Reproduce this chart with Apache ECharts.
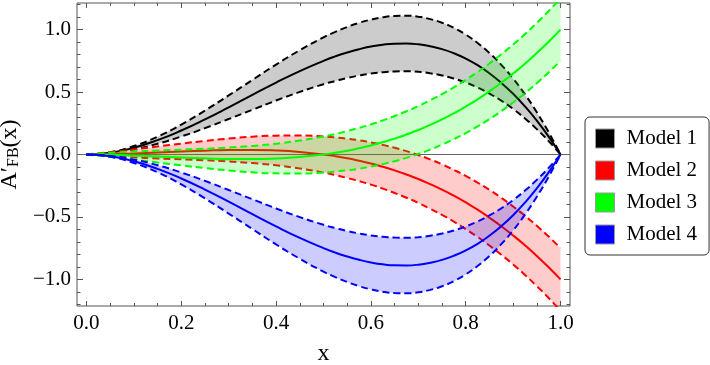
<!DOCTYPE html>
<html><head><meta charset="utf-8">
<script src="https://cdn.jsdelivr.net/npm/echarts@6/dist/echarts.min.js"></script>
<style>html,body{margin:0;padding:0;background:#fff}#c{width:710px;height:365px}</style>
</head><body><div id="c"></div>
<script>
// x sample positions
const xs = [0,0.05,0.1,0.15,0.2,0.25,0.3,0.35,0.4,0.45,0.5,0.525,0.55,0.575,0.6,0.625,0.65,0.675,0.7,0.725,0.75,0.775,0.8,0.825,0.85,0.875,0.9,0.925,0.95,0.975,1];

// Model 1 (black)
const m1Mid = [0,0.014,0.054,0.115,0.192,0.281,0.378,0.478,0.576,0.668,0.750,0.786,0.817,0.843,0.864,0.879,0.887,0.888,0.882,0.867,0.844,0.811,0.768,0.715,0.650,0.574,0.486,0.385,0.271,0.143,0];
const m1Up  = [0,0.018,0.068,0.143,0.240,0.352,0.473,0.597,0.720,0.835,0.938,0.982,1.021,1.054,1.080,1.099,1.109,1.111,1.103,1.084,1.055,1.014,0.960,0.893,0.813,0.718,0.608,0.481,0.338,0.178,0];
const m1Lo  = [0,0.011,0.041,0.086,0.144,0.211,0.284,0.358,0.432,0.501,0.563,0.589,0.613,0.632,0.648,0.659,0.665,0.666,0.662,0.650,0.633,0.608,0.576,0.536,0.488,0.431,0.365,0.289,0.203,0.107,0];

// Model 2 (red)
const m2Mid = [0,0.002,0.008,0.016,0.024,0.031,0.036,0.037,0.032,0.020,0,-0.014,-0.030,-0.050,-0.072,-0.098,-0.127,-0.160,-0.196,-0.237,-0.281,-0.330,-0.384,-0.442,-0.506,-0.574,-0.648,-0.727,-0.812,-0.903,-1.0];
const m2Up  = [0,0.019,0.040,0.064,0.087,0.109,0.128,0.143,0.151,0.153,0.145,0.137,0.127,0.114,0.097,0.077,0.054,0.027,-0.004,-0.039,-0.079,-0.123,-0.171,-0.225,-0.283,-0.347,-0.416,-0.491,-0.571,-0.657,-0.75];
const m2Lo  = [0,-0.014,-0.024,-0.032,-0.039,-0.046,-0.056,-0.069,-0.087,-0.112,-0.145,-0.165,-0.188,-0.213,-0.241,-0.273,-0.308,-0.346,-0.388,-0.434,-0.484,-0.538,-0.597,-0.660,-0.729,-0.802,-0.880,-0.964,-1.054,-1.149,-1.25];

// Model 3 (green)
const m3Mid = [0,-0.002,-0.008,-0.016,-0.024,-0.031,-0.036,-0.037,-0.032,-0.020,0,0.014,0.030,0.050,0.072,0.098,0.127,0.160,0.196,0.237,0.281,0.330,0.384,0.442,0.506,0.574,0.648,0.727,0.812,0.903,1.0];
const m3Up  = [0,0.014,0.024,0.032,0.039,0.046,0.056,0.069,0.087,0.112,0.145,0.165,0.188,0.213,0.241,0.273,0.308,0.346,0.388,0.434,0.484,0.538,0.597,0.660,0.729,0.802,0.880,0.964,1.054,1.149,1.25];
const m3Lo  = [0,-0.019,-0.040,-0.064,-0.087,-0.109,-0.128,-0.143,-0.151,-0.153,-0.145,-0.137,-0.127,-0.114,-0.097,-0.077,-0.054,-0.027,0.004,0.039,0.079,0.123,0.171,0.225,0.283,0.347,0.416,0.491,0.571,0.657,0.75];

// Model 4 (blue)
const m4Mid = [0,-0.014,-0.054,-0.115,-0.192,-0.281,-0.378,-0.478,-0.576,-0.668,-0.750,-0.786,-0.817,-0.843,-0.864,-0.879,-0.887,-0.888,-0.882,-0.867,-0.844,-0.811,-0.768,-0.715,-0.650,-0.574,-0.486,-0.385,-0.271,-0.143,0];
const m4Up  = [0,-0.011,-0.041,-0.086,-0.144,-0.211,-0.284,-0.358,-0.432,-0.501,-0.563,-0.589,-0.613,-0.632,-0.648,-0.659,-0.665,-0.666,-0.662,-0.650,-0.633,-0.608,-0.576,-0.536,-0.488,-0.431,-0.365,-0.289,-0.203,-0.107,0];
const m4Lo  = [0,-0.018,-0.068,-0.143,-0.240,-0.352,-0.473,-0.597,-0.720,-0.835,-0.938,-0.982,-1.021,-1.054,-1.080,-1.099,-1.109,-1.111,-1.103,-1.084,-1.055,-1.014,-0.960,-0.893,-0.813,-0.718,-0.608,-0.481,-0.338,-0.178,0];

const modelNames = ['Model 1','Model 2','Model 3','Model 4'];
const xTicks = [0,0.2,0.4,0.6,0.8,1.0];
const xMinor = [0.05,0.1,0.15,0.25,0.3,0.35,0.45,0.5,0.55,0.65,0.7,0.75,0.85,0.9,0.95];
const yTicks = [-1.0,-0.5,0,0.5,1.0];
const yMinor = [-1.2,-1.1,-0.9,-0.8,-0.7,-0.6,-0.4,-0.3,-0.2,-0.1,0.1,0.2,0.3,0.4,0.6,0.7,0.8,0.9,1.1,1.2];

const FONT = 'Liberation Serif';
const models = [
  {mid:m1Mid, up:m1Up, lo:m1Lo, color:'#000000', fill:'rgba(0,0,0,0.2)'},
  {mid:m2Mid, up:m2Up, lo:m2Lo, color:'#ff0000', fill:'rgba(255,0,0,0.2)'},
  {mid:m3Mid, up:m3Up, lo:m3Lo, color:'#00ff00', fill:'rgba(0,255,0,0.2)'},
  {mid:m4Mid, up:m4Up, lo:m4Lo, color:'#0000ff', fill:'rgba(0,0,255,0.2)'}
];
const pts = arr => xs.map((x,i)=>[x,arr[i]]);
// y first so that the stacked dimension is y
const ptsYX = arr => xs.map((x,i)=>[arr[i],x]);
const fmt = v => (v<0?'\u2212':'') + Math.abs(v).toFixed(1);

const series = [{
  type:'line', data:[[-0.02,0],[1.02,0]], symbol:'none', silent:true, z:1,
  lineStyle:{color:'#666', width:1}
}];
models.forEach((m,i)=>{
  const zf = 2 + i*2, zl = 3 + i*2, st = 'band'+i;
  series.push({type:'line', stack:st, stackStrategy:'all', encode:{x:1, y:0}, data:ptsYX(m.lo), symbol:'none', smooth:true, silent:true, z:zf, lineStyle:{width:0, opacity:0}});
  series.push({type:'line', stack:st, stackStrategy:'all', encode:{x:1, y:0}, data:ptsYX(m.up.map((u,k)=>u-m.lo[k])), symbol:'none', smooth:true, silent:true, z:zf, lineStyle:{width:0, opacity:0}, areaStyle:{color:m.fill, opacity:1}});
  series.push({type:'line', data:pts(m.up), symbol:'none', smooth:true, silent:true, z:zl, lineStyle:{color:m.color, width:2, type:[7,4]}});
  series.push({type:'line', data:pts(m.lo), symbol:'none', smooth:true, silent:true, z:zl, lineStyle:{color:m.color, width:2, type:[7,4]}});
  series.push({name:modelNames[i], type:'line', data:pts(m.mid), symbol:'none', smooth:true, silent:true, z:zl, itemStyle:{color:m.color}, lineStyle:{color:m.color, width:2}});
});

const tickColor = '#555';
function xAx(pos, vals, len, labels){
  return {type:'value', min:-0.02, max:1.02, position:pos,
    axisLine:{show:false, onZero:false}, splitLine:{show:false},
    axisTick:{show:true, inside:true, length:len, customValues:vals, lineStyle:{color:tickColor, width:1}},
    axisLabel: labels ? {show:true, customValues:vals, formatter:fmt, margin:7, color:'#000', fontFamily:FONT, fontSize:21} : {show:false}
  };
}
function yAx(pos, vals, len, labels){
  return {type:'value', min:-1.213, max:1.213, position:pos,
    axisLine:{show:false, onZero:false}, splitLine:{show:false},
    axisTick:{show:true, inside:true, length:len, customValues:vals, lineStyle:{color:tickColor, width:1}},
    axisLabel: labels ? {show:true, customValues:vals, formatter:fmt, margin:6, color:'#000', fontFamily:FONT, fontSize:21} : {show:false}
  };
}
const xMain = xAx('bottom', xTicks, 5, true);
xMain.name = 'x'; xMain.nameLocation = 'middle'; xMain.nameGap = 36;
xMain.nameTextStyle = {fontFamily:FONT, fontSize:24, color:'#000'};
const yMain = yAx('left', yTicks, 6, true);
yMain.name = '{a|A\u2032}{s|FB}{a|(x)}'; yMain.nameLocation = 'middle'; yMain.nameGap = 50; yMain.nameRotate = 90;
yMain.nameTextStyle = {color:'#000', rich:{a:{fontFamily:FONT, fontSize:24, color:'#000'}, s:{fontFamily:FONT, fontSize:16, color:'#000', verticalAlign:'bottom'}}};

const chart = echarts.init(document.getElementById('c'), null, {renderer:'canvas'});
chart.setOption({
  animation:false,
  backgroundColor:'#fff',
  grid:{left:77, top:3, width:493, height:303, containLabel:false, outerBoundsMode:'none', show:true, borderColor:'#555', borderWidth:1, backgroundColor:'transparent'},
  xAxis:[xMain, xAx('bottom', xMinor, 3, false), xAx('top', xTicks, 5, false), xAx('top', xMinor, 3, false)],
  yAxis:[yMain, yAx('left', yMinor, 3.5, false), yAx('right', yTicks, 6, false), yAx('right', yMinor, 3.5, false)],
  legend:{
    orient:'vertical', left:585, top:117,
    itemWidth:19, itemHeight:19, itemGap:11,
    padding:[11,12,10,10],
    borderColor:'#333', borderWidth:1, borderRadius:5, backgroundColor:'#fff',
    selectedMode:false,
    textStyle:{fontFamily:FONT, fontSize:21, color:'#000', lineHeight:19, padding:[0,0,0,7]},
    data: modelNames.map((n,i)=>({name:n, icon:'rect', itemStyle:{color:models[i].color, borderColor:'#999', borderWidth:1}}))
  },
  series: series
});
</script>
</body></html>
